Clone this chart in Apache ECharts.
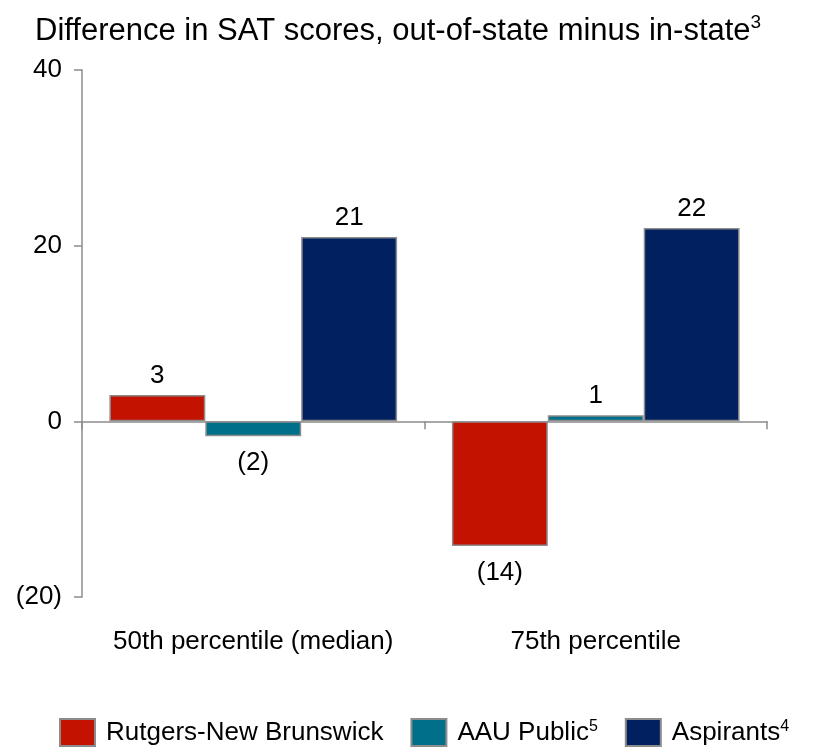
<!DOCTYPE html>
<html>
<head>
<meta charset="utf-8">
<script src="https://cdn.jsdelivr.net/npm/echarts@6/dist/echarts.min.js"></script>
<style>
html,body{margin:0;padding:0;background:#fff;}
#chart{width:814px;height:747px;}
</style>
</head>
<body>
<div id="chart"></div>
<script>
// ---- data ----
var categories = ['50th percentile (median)', '75th percentile'];
var seriesNames = ['Rutgers-New Brunswick', 'AAU Public', 'Aspirants'];
var seriesFootnotes = ['', '5', '4'];
var rutgers = [3, -14.2];
var aauPublic = [-1.7, 0.7];
var aspirants = [21, 22];
var yTicks = [-20, 0, 20, 40];
var titleText = 'Difference in SAT scores, out-of-state minus in-state';
var titleFootnote = '3';

var colors = ['#C41200', '#00708A', '#002060'];
var FONT = '"Liberation Sans", Arial, Helvetica, sans-serif';

function fmtNum(v) {
  var r = Math.round(Math.abs(v));
  return v < 0 ? '(' + r + ')' : String(r);
}

function makeSeries(name, values, color) {
  return {
    name: name,
    type: 'bar',
    barGap: '0%',
    barCategoryGap: '16%',
    itemStyle: { color: color, borderColor: '#8c8c8c', borderWidth: 1.5 },
    emphasis: { disabled: true },
    data: values.map(function (v) {
      return {
        value: v,
        label: {
          show: true,
          position: v < 0 ? 'bottom' : 'top',
          distance: v < 0 ? 14 : 6,
          formatter: function (p) { return fmtNum(p.value); },
          color: '#000',
          fontSize: 26,
          fontFamily: FONT
        }
      };
    })
  };
}

var chart = echarts.init(document.getElementById('chart'), null, { renderer: 'canvas' });
var footMap = {};
seriesNames.forEach(function (n, i) { footMap[n] = seriesFootnotes[i]; });

chart.setOption({
  animation: false,
  backgroundColor: '#fff',
  color: colors,
  title: {
    text: '{t|' + titleText + '}{s|' + titleFootnote + '}',
    left: 30,
    top: 8,
    textStyle: {
      fontWeight: 'normal',
      rich: {
        t: { fontSize: 31, fontFamily: FONT, fontWeight: 'normal', color: '#000', lineHeight: 36 },
        s: { fontSize: 19, fontFamily: FONT, fontWeight: 'normal', color: '#000', verticalAlign: 'top', lineHeight: 30, padding: [0, 0, 10, 0] }
      }
    }
  },
  legend: {
    left: 54,
    top: 713,
    itemWidth: 35,
    itemHeight: 27,
    itemGap: 27,
    icon: 'rect',
    selectedMode: false,
    data: seriesNames,
    formatter: function (name) {
      var f = footMap[name];
      return '{n|' + name + '}' + (f ? '{s|' + f + '}' : '');
    },
    textStyle: {
      padding: [0, 0, 0, 6],
      rich: {
        n: { fontSize: 26, fontFamily: FONT, color: '#000', lineHeight: 27 },
        s: { fontSize: 16, fontFamily: FONT, color: '#000', verticalAlign: 'top', lineHeight: 18, padding: [0, 0, 6, 0] }
      }
    }
  },
  grid: { left: 82, right: 47, top: 70, bottom: 150, containLabel: false },
  xAxis: [
    {
      type: 'category',
      data: categories,
      axisLine: { onZero: true, lineStyle: { color: '#8c8c8c', width: 1.5 } },
      axisTick: { show: true, length: 8, lineStyle: { color: '#8c8c8c', width: 1.5 } },
      axisLabel: { show: false }
    },
    {
      type: 'category',
      data: categories,
      position: 'bottom',
      axisLine: { show: false, onZero: false },
      axisTick: { show: false },
      axisLabel: { show: true, interval: 0, margin: 32, fontSize: 26, fontFamily: FONT, color: '#000' }
    }
  ],
  yAxis: {
    type: 'value',
    min: yTicks[0],
    max: yTicks[yTicks.length - 1],
    interval: 20,
    splitLine: { show: false },
    axisLine: { show: true, lineStyle: { color: '#8c8c8c', width: 1.5 } },
    axisTick: { show: true, length: 8, lineStyle: { color: '#8c8c8c', width: 1.5 } },
    axisLabel: {
      margin: 20,
      fontSize: 26,
      fontFamily: FONT,
      color: '#000',
      formatter: function (v) { return fmtNum(v); }
    }
  },
  series: [
    makeSeries(seriesNames[0], rutgers, colors[0]),
    makeSeries(seriesNames[1], aauPublic, colors[1]),
    makeSeries(seriesNames[2], aspirants, colors[2])
  ]
});
</script>
</body>
</html>
